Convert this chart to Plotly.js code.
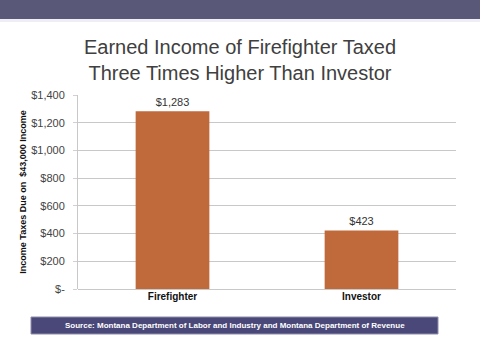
<!DOCTYPE html>
<html>
<head>
<meta charset="utf-8">
<script src="https://cdn.plot.ly/plotly-3.0.1.min.js"></script>
<style>html,body{margin:0;padding:0;background:#fff}#chart{width:480px;height:360px}</style>
</head>
<body>
<div id="chart"></div>
<script>
var categories = ["Firefighter", "Investor"];
var taxes = [1283, 423];
var tickValues = [0, 200, 400, 600, 800, 1000, 1200, 1400];
var tickLabels = ["$-", "$200", "$400", "$600", "$800", "$1,000", "$1,200", "$1,400"];
var titleText = "Earned Income of Firefighter Taxed<br>Three Times Higher Than Investor";
var sourceText = "Source: Montana Department of Labor and Industry and Montana Department of Revenue";

var trace = {
  type: "bar",
  x: categories,
  y: taxes,
  marker: {color: "#c0693b"},
  width: 0.39,
  text: taxes.map(function(v){return "$" + v.toLocaleString("en-US");}),
  textposition: "outside",
  textfont: {family: "Liberation Sans, Arial, sans-serif", size: 11, color: "#333"},
  cliponaxis: false,
  hoverinfo: "none"
};

var layout = {
  width: 480, height: 360,
  margin: {l: 78, r: 24, t: 95, b: 71},
  paper_bgcolor: "#fff", plot_bgcolor: "#fff",
  showlegend: false,
  font: {family: "Liberation Sans, Arial, sans-serif", color: "#333"},
  title: {
    text: titleText,
    x: 0.5, xanchor: "center",
    y: 1 - 54/360, yanchor: "middle",
    font: {size: 20, color: "#404040", family: "Liberation Sans, Arial, sans-serif"}
  },
  xaxis: {
    tickfont: {size: 10, color: "#111", family: "Liberation Sans, Arial, sans-serif", weight: "bold"},
    showline: false, ticks: "", showgrid: false, fixedrange: true
  },
  yaxis: {
    range: [0, 1400],
    tickvals: tickValues, ticktext: tickLabels,
    tickfont: {size: 11, color: "#444"},
    showgrid: true, gridcolor: "#c8c8c8", gridwidth: 1,
    showline: true, linecolor: "#c8c8c8", zeroline: true, zerolinecolor: "#c8c8c8",
    ticks: "outside", ticklen: 4, tickcolor: "#d0d0d0",
    ticklabelstandoff: 6,
    title: {text: "Income Taxes Due on  $43,000 Income", font: {size: 9, color: "#111", weight: "bold"}, standoff: 2},
    fixedrange: true
  },
  shapes: [
    {type: "rect", xref: "paper", yref: "paper", x0: -0.22, x1: 1.08, y0: 289/194 + 0.01, y1: (289-19)/194, fillcolor: "#5a5879", line: {width: 0}, layer: "above"},
    {type: "rect", xref: "paper", yref: "paper", x0: -0.22, x1: 1.08, y0: (289-19)/194, y1: (289-22)/194, fillcolor: "#efeef4", line: {width: 0}, layer: "above"},
    {type: "rect", xref: "paper", yref: "paper", x0: (31-78)/378, x1: (438-78)/378, y0: (289-334)/194, y1: (289-317)/194, fillcolor: "#4a4878", line: {width: 1, color: "#8d8cab"}, layer: "above"}
  ],
  annotations: [
    {xref: "paper", yref: "paper", x: (234.5-78)/378, y: (289-325.5)/194, text: sourceText, showarrow: false,
     xanchor: "center", yanchor: "middle", font: {size: 8, color: "#ffffff", weight: "bold"}}
  ]
};

Plotly.newPlot("chart", [trace], layout, {displayModeBar: false, staticPlot: true});
</script>
</body>
</html>
